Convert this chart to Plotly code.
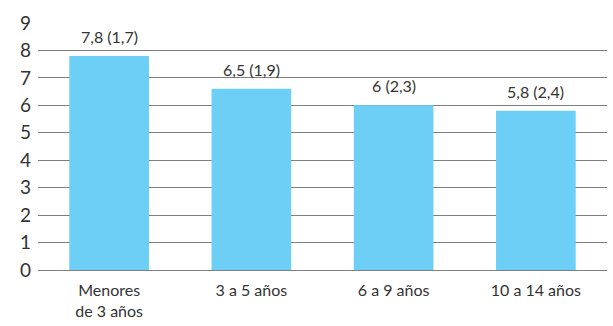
import plotly.graph_objects as go

categories = ["Menores<br>de 3 años", "3 a 5 años", "6 a 9 años", "10 a 14 años"]
values = [7.8, 6.6, 6.0, 5.8]
labels = ["7,8 (1,7)", "6,5 (1,9)", "6 (2,3)", "5,8 (2,4)"]
y_ticks = list(range(0, 10))

fig = go.Figure()
fig.add_trace(go.Bar(
    x=categories, y=values,
    marker=dict(color="#6DCFF6", line=dict(width=0)),
    width=0.56,
    hoverinfo="skip",
))

for c, v, t in zip(categories, values, labels):
    fig.add_annotation(
        x=c, y=v, text=t, showarrow=False,
        yanchor="bottom", yshift=8,
        font=dict(family="Lato", size=16, color="#333333"),
    )

fig.update_layout(
    width=613, height=326,
    margin=dict(l=38, r=6, t=23, b=56),
    paper_bgcolor="white", plot_bgcolor="white",
    showlegend=False,
    bargap=0.44,
    font=dict(family="Lato", color="#333333"),
)
fig.update_xaxes(
    showgrid=False, showline=False, ticks="",
    tickfont=dict(size=16, color="#333333"),
    ticklabelstandoff=9,
)
fig.update_yaxes(
    range=[0, 9], tickvals=y_ticks,
    showgrid=True, gridcolor="#7F7F7F", gridwidth=1,
    zeroline=True, zerolinecolor="#7F7F7F", zerolinewidth=1,
    showline=False, ticks="",
    tickfont=dict(size=19, color="#333333"),
    ticklabelstandoff=6,
)

fig.write_html("out.html")
